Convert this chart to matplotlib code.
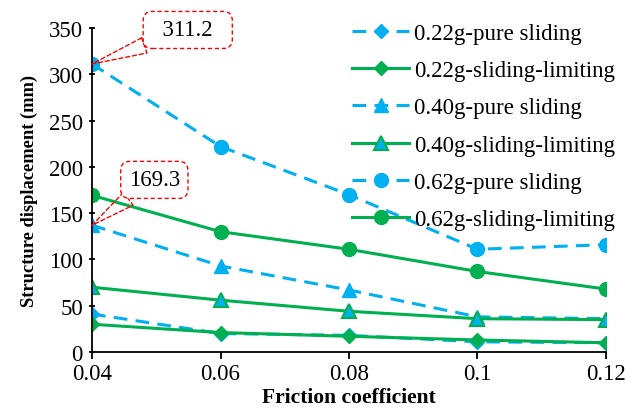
import matplotlib.pyplot as plt

friction = [0.04, 0.06, 0.08, 0.1, 0.12]
tick_labels = ["0.04", "0.06", "0.08", "0.1", "0.12"]

pure_022 = [41, 20, 18, 11, 10]
lim_022 = [30, 21, 17, 13, 10]
pure_040 = [137, 93, 67, 38, 36]
lim_040 = [70, 56, 44, 36, 35]
pure_062 = [311.2, 222, 170, 111, 116]
lim_062 = [169.3, 130, 111, 87, 68]

BLUE = "#00B0F0"
GREEN = "#00B050"

plt.rcParams["font.family"] = ["Liberation Serif", "DejaVu Serif"]

fig = plt.figure(figsize=(6.26, 4.10), dpi=100)
ax = fig.add_axes([0.147, 0.139, 0.821, 0.79])

dash = (0, (4.5, 2.7))
lw = 2.2
ax.plot(friction, pure_022, color=BLUE, ls=dash, lw=lw, marker="D", ms=7.5, label="0.22g-pure sliding")
ax.plot(friction, lim_022, color=GREEN, lw=lw, marker="D", ms=7.5, label="0.22g-sliding-limiting")
ax.plot(friction, pure_040, color=BLUE, ls=dash, lw=lw, marker="^", ms=10, label="0.40g-pure sliding")
ax.plot(friction, lim_040, color=GREEN, lw=lw, marker="^", ms=10, mfc=BLUE, mec=GREEN, mew=1.5,
        label="0.40g-sliding-limiting")
ax.plot(friction, pure_062, color=BLUE, ls=dash, lw=lw, marker="o", ms=10, label="0.62g-pure sliding")
ax.plot(friction, lim_062, color=GREEN, lw=lw, marker="o", ms=10, label="0.62g-sliding-limiting")

box = dict(boxstyle="round,pad=0.35,rounding_size=0.4", fc="white", ec="red", ls=(0, (3, 2)), lw=1)
arrow = dict(arrowstyle="wedge,tail_width=0.7", fc="none", ec="red", ls=(0, (3, 2)), lw=1,
             shrinkA=0, shrinkB=0)
ax.annotate(f"  {pure_062[0]:.1f}  ", xy=(friction[0], pure_062[0]), xytext=(0.0549, 348),
            ha="center", va="center", fontsize=16.5, bbox=box, arrowprops=arrow, annotation_clip=False)
ax.annotate(f"{lim_062[0]:.1f}", xy=(friction[0], pure_040[0]), xytext=(0.0497, 186),
            ha="center", va="center", fontsize=16.5, bbox=box, arrowprops=arrow, annotation_clip=False)

ax.set_xlim(0.04, 0.12)
ax.set_ylim(0, 350)
ax.set_xticks(friction)
ax.set_xticklabels(tick_labels)
ax.set_yticks(range(0, 351, 50))
ax.tick_params(axis="both", labelsize=16.5, width=1.3, length=5)
ax.tick_params(axis="y", direction="inout", pad=4)
ax.tick_params(axis="x", pad=3)
ax.spines["top"].set_visible(False)
ax.spines["right"].set_visible(False)
ax.spines["left"].set_linewidth(1.3)
ax.spines["bottom"].set_linewidth(1.3)

ax.set_xlabel("Friction coefficient", fontsize=15.5, fontweight="bold", labelpad=2)
ax.set_ylabel("Structure displacement (mm)", fontsize=13.3, fontweight="bold", labelpad=8)

ax.legend(loc="upper left", bbox_to_anchor=(0.506, 1.015), frameon=False, fontsize=16.5,
          handlelength=2.5, labelspacing=0.7, handletextpad=0.2, borderaxespad=0, borderpad=0)

fig.savefig("out.png", dpi=100)
